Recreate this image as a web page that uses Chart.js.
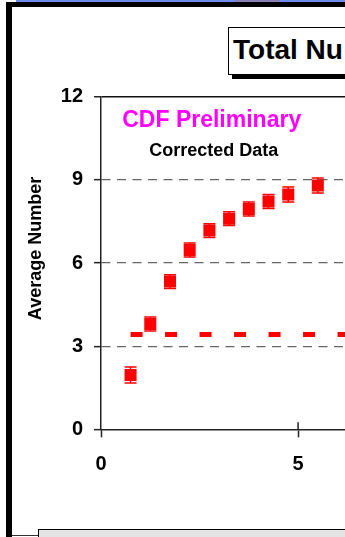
<!DOCTYPE html>
<html>
<head>
<meta charset="utf-8">
<script src="https://cdn.jsdelivr.net/npm/chart.js@4"></script>
<style>
    html, body { margin: 0; padding: 0; width: 345px; height: 537px; overflow: hidden; background: #fff; }
    #topStrip { position: absolute; left: 16px; top: 0; width: 329px; height: 2px; background: #6b8ef0; }
    #topStripDark { position: absolute; left: 235px; top: 0; width: 45px; height: 2px; background: #8a7fb5; }
    #frame { position: absolute; left: 6px; top: 2px; width: 400px; height: 600px; border-left: 6px solid #000; border-top: 5px solid #000; background: #fff; }
    #titleBox { position: absolute; left: 228px; top: 27px; width: 200px; height: 40px; padding-top: 6px; padding-left: 4px;
        border: 1px solid #000; background: #fff; box-shadow: 4px 4px 0 #000;
        font: bold 28px Arial, "Liberation Sans", sans-serif; line-height: 32px; white-space: nowrap; color: #000; }
    #bottomBox { position: absolute; left: 38px; top: 529px; width: 400px; height: 30px; border: 1px solid #000; background: #e4e4e4; }
    #bottomLine { position: absolute; left: 12px; top: 535px; width: 26px; height: 1px; background: #333; }
    #avgChart { position: absolute; left: 0; top: 0; }
</style>
</head>
<body>
<div id="topStrip"></div>
<div id="topStripDark"></div>
<div id="frame"></div>
<div id="titleBox">Total Nu</div>
<div id="bottomBox"></div>
<div id="bottomLine"></div>
<canvas id="avgChart" width="345" height="537"></canvas>
<script>
// data
const xValues = [0.75, 1.25, 1.75, 2.25, 2.75, 3.25, 3.75, 4.25, 4.75, 5.5];
const avgValues = [1.96, 3.80, 5.33, 6.47, 7.17, 7.60, 7.95, 8.22, 8.47, 8.80];
const avgErrors = [0.29, 0.25, 0.25, 0.25, 0.25, 0.25, 0.25, 0.25, 0.27, 0.27];
const refLineX = [0.75, 6.3];
const refLineY = [3.42, 3.42];
const xTicks = [0, 5];
const yTicks = [0, 3, 6, 9, 12];
const yTitle = 'Average Number';
const noteTop = 'CDF Preliminary';
const noteBottom = 'Corrected Data';

const fontFamily = 'Arial, "Liberation Sans", sans-serif';
Chart.defaults.font.family = fontFamily;

const overlayPlugin = {
    id: 'overlay',
    beforeDatasetsDraw(chart) {
        // error bars
        const ctx = chart.ctx;
        const xs = chart.scales.x;
        const ys = chart.scales.y;
        ctx.save();
        ctx.strokeStyle = '#ff0000';
        ctx.lineWidth = 1.5;
        xValues.forEach((xv, i) => {
            const px = xs.getPixelForValue(xv);
            const top = ys.getPixelForValue(avgValues[i] + avgErrors[i]);
            const bot = ys.getPixelForValue(avgValues[i] - avgErrors[i]);
            ctx.beginPath();
            ctx.moveTo(px, top); ctx.lineTo(px, bot);
            ctx.moveTo(px - 6, top); ctx.lineTo(px + 6, top);
            ctx.moveTo(px - 6, bot); ctx.lineTo(px + 6, bot);
            ctx.stroke();
        });
        ctx.restore();
    },
    afterDraw(chart) {
        const ctx = chart.ctx;
        const xs = chart.scales.x;
        const area = chart.chartArea;
        ctx.save();

        // x ticks cross the axis
        ctx.strokeStyle = '#222';
        ctx.lineWidth = 1.5;
        xTicks.forEach(v => {
            if (v === 0) return;
            const px = xs.getPixelForValue(v);
            ctx.beginPath();
            ctx.moveTo(px, area.bottom - 7);
            ctx.lineTo(px, area.bottom);
            ctx.stroke();
        });

        // y axis title
        ctx.fillStyle = '#000';
        ctx.font = 'bold 18px ' + fontFamily;
        ctx.textAlign = 'center';
        ctx.textBaseline = 'alphabetic';
        ctx.save();
        ctx.translate(41, 248.5);
        ctx.rotate(-Math.PI / 2);
        ctx.fillText(yTitle, 0, 0);
        ctx.restore();

        // notes inside the plot
        ctx.fillStyle = '#ff00ff';
        ctx.font = 'bold 23px ' + fontFamily;
        ctx.fillText(noteTop, 211.7, 127.3);
        ctx.fillStyle = '#000';
        ctx.font = 'bold 18px ' + fontFamily;
        ctx.fillText(noteBottom, 213.7, 156);
        ctx.restore();
    }
};

const chartCtx = document.getElementById('avgChart');
new Chart(chartCtx, {
    type: 'scatter',
    data: {
        datasets: [{
            label: 'Average',
            data: xValues.map((x, i) => ({ x: x, y: avgValues[i] })),
            backgroundColor: '#ff0000',
            borderWidth: 0,
            pointStyle: 'rect',
            pointRadius: 8.5,
            pointHoverRadius: 8.5
        }, {
            label: 'Reference',
            data: refLineX.map((x, i) => ({ x: x, y: refLineY[i] })),
            showLine: true,
            borderColor: '#ff0000',
            borderWidth: 5,
            borderDash: [12, 22.5],
            borderCapStyle: 'butt',
            pointRadius: 0,
            pointHoverRadius: 0
        }]
    },
    options: {
        responsive: false,
        animation: false,
        layout: { autoPadding: false, padding: { top: 96.7, left: 0, right: 0, bottom: 0 } },
        plugins: {
            legend: { display: false },
            tooltip: { enabled: false }
        },
        scales: {
            x: {
                type: 'linear',
                min: 0,
                max: 6.19,
                afterBuildTicks: scale => { scale.ticks = xTicks.map(v => ({ value: v })); },
                afterFit: scale => {
                    scale.height = 107.7;
                    scale.paddingLeft = 0;
                    scale.paddingRight = 0;
                },
                grid: {
                    drawOnChartArea: false,
                    tickLength: 8,
                    tickColor: '#222',
                    tickWidth: 1.5
                },
                border: { color: '#222', width: 1.5 },
                ticks: {
                    color: '#000',
                    padding: 15,
                    font: { size: 20, weight: 'bold' }
                }
            },
            y: {
                min: 0,
                max: 12,
                afterBuildTicks: scale => { scale.ticks = yTicks.map(v => ({ value: v })); },
                afterFit: scale => { scale.width = 101; },
                grid: {
                    color: c => c.tick && c.tick.value === 12 ? '#111' : (c.tick && c.tick.value === 0 ? 'rgba(0,0,0,0)' : '#666'),
                    lineWidth: c => c.tick && c.tick.value === 12 ? 1.5 : 1.3,
                    tickLength: 7,
                    tickColor: '#222',
                    tickWidth: 1.5
                },
                border: {
                    color: '#222',
                    width: 1.5,
                    dash: c => c.tick && (c.tick.value === 12 || c.tick.value === 0) ? [] : [9, 6.5]
                },
                ticks: {
                    color: '#000',
                    padding: 11,
                    font: { size: 20, weight: 'bold' }
                }
            }
        }
    },
    plugins: [overlayPlugin]
});
</script>
</body>
</html>
